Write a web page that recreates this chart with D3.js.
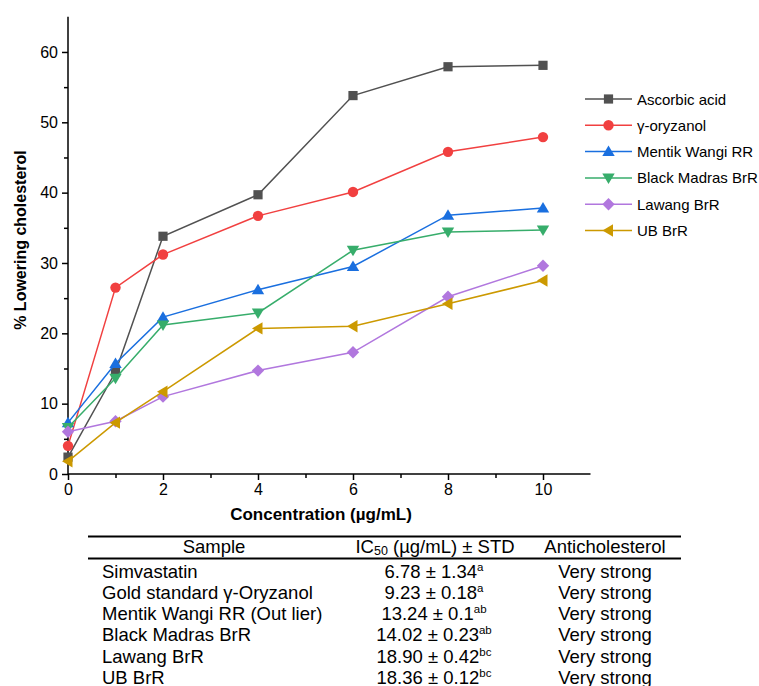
<!DOCTYPE html>
<html>
<head>
<meta charset="utf-8">
<script src="https://cdn.jsdelivr.net/npm/d3@7"></script>
<style>
  body { margin: 0; background: #fff; }
  svg text { font-family: Arial, "Liberation Sans", sans-serif; }
</style>
</head>
<body>
<svg id="chart" width="759" height="686"></svg>
<script>
var concentrations = [0, 1, 2, 4, 6, 8, 10];
var seriesNames = ['Ascorbic acid', 'γ-oryzanol', 'Mentik Wangi RR', 'Black Madras BrR', 'Lawang BrR', 'UB BrR'];
var ascorbic = [2.4, 14.5, 33.8, 39.7, 53.8, 57.9, 58.1];
var oryzanol = [4.0, 26.5, 31.2, 36.7, 40.1, 45.8, 47.9];
var mentik = [7.3, 15.7, 22.3, 26.2, 29.5, 36.8, 37.8];
var blackMadras = [6.6, 13.6, 21.2, 22.9, 31.8, 34.4, 34.7];
var lawang = [6.0, 7.5, 11.0, 14.7, 17.3, 25.2, 29.6];
var ubBrR = [1.8, 7.3, 11.7, 20.7, 21.0, 24.2, 27.5];
var colors = ['#515151', '#F14040', '#1A6FDF', '#37AD6B', '#B177DE', '#CC9900'];

var tableHeader = ['Sample', 'IC', '(µg/mL) ± STD', 'Anticholesterol'];
var tableSamples = ['Simvastatin', 'Gold standard γ-Oryzanol', 'Mentik Wangi RR (Out lier)', 'Black Madras BrR', 'Lawang BrR', 'UB BrR'];
var tableIC50 = ['6.78 ± 1.34', '9.23 ± 0.18', '13.24 ± 0.1', '14.02 ± 0.23', '18.90 ± 0.42', '18.36 ± 0.12'];
var tableSup = ['a', 'a', 'ab', 'ab', 'bc', 'bc'];
var tableClass = ['Very strong', 'Very strong', 'Very strong', 'Very strong', 'Very strong', 'Very strong'];

var allSeries = [ascorbic, oryzanol, mentik, blackMadras, lawang, ubBrR];

var svg = d3.select('#chart');

var x = d3.scaleLinear().domain([0, 11]).range([68, 590.5]);
var y = d3.scaleLinear().domain([0, 65]).range([474, 16.8]);

// axes
var xAxis = svg.append('g').attr('transform', 'translate(0,474)')
  .call(d3.axisBottom(x).tickValues(d3.range(0, 11, 1))
    .tickFormat(function(d) { return d % 2 === 0 ? d : ''; })
    .tickSizeOuter(0).tickSize(6).tickPadding(4));
xAxis.selectAll('.tick line').attr('y2', function(d) { return d % 2 === 0 ? 6 : 4; });

var yAxis = svg.append('g').attr('transform', 'translate(68,0)')
  .call(d3.axisLeft(y).tickValues(d3.range(0, 65, 5))
    .tickFormat(function(d) { return d % 10 === 0 ? d : ''; })
    .tickSizeOuter(0).tickSize(6).tickPadding(4));
yAxis.selectAll('.tick line').attr('x2', function(d) { return d % 10 === 0 ? -6 : -4; });

[xAxis, yAxis].forEach(function(a) {
  a.select('.domain').attr('stroke', '#000').attr('stroke-width', 1.5);
  a.selectAll('.tick line').attr('stroke', '#000').attr('stroke-width', 1.5);
  a.selectAll('.tick text').attr('font-size', 16).attr('fill', '#000');
});
yAxis.select('.domain').attr('d', 'M0,' + y(65) + 'V' + y(0));
xAxis.select('.domain').attr('d', 'M' + x(0) + ',0H' + x(11));

svg.append('text')
  .attr('x', 321).attr('y', 520)
  .attr('text-anchor', 'middle')
  .attr('font-size', 17).attr('font-weight', 'bold')
  .text('Concentration (µg/mL)');

svg.append('text')
  .attr('transform', 'translate(26,240) rotate(-90)')
  .attr('text-anchor', 'middle')
  .attr('font-size', 16).attr('font-weight', 'bold')
  .text('% Lowering cholesterol');

// markers
function marker(g, i, cx, cy, color) {
  var s = 5.2;
  if (i === 0) {
    g.append('rect').attr('x', cx - 4.6).attr('y', cy - 4.6).attr('width', 9.2).attr('height', 9.2).attr('fill', color);
  } else if (i === 1) {
    g.append('circle').attr('cx', cx).attr('cy', cy).attr('r', 5.2).attr('fill', color);
  } else if (i === 2) {
    g.append('path').attr('d', 'M' + cx + ',' + (cy - 6) + 'L' + (cx + 6.2) + ',' + (cy + 4.5) + 'L' + (cx - 6.2) + ',' + (cy + 4.5) + 'Z').attr('fill', color);
  } else if (i === 3) {
    g.append('path').attr('d', 'M' + cx + ',' + (cy + 6) + 'L' + (cx + 6.2) + ',' + (cy - 4.5) + 'L' + (cx - 6.2) + ',' + (cy - 4.5) + 'Z').attr('fill', color);
  } else if (i === 4) {
    g.append('path').attr('d', 'M' + cx + ',' + (cy - s - 1) + 'L' + (cx + s + 1) + ',' + cy + 'L' + cx + ',' + (cy + s + 1) + 'L' + (cx - s - 1) + ',' + cy + 'Z').attr('fill', color);
  } else {
    g.append('path').attr('d', 'M' + (cx - 6) + ',' + cy + 'L' + (cx + 4.5) + ',' + (cy - 6.2) + 'L' + (cx + 4.5) + ',' + (cy + 6.2) + 'Z').attr('fill', color);
  }
}

var line = d3.line()
  .x(function(d, j) { return x(concentrations[j]); })
  .y(function(d) { return y(d); });

for (var i = 0; i < allSeries.length; ++i) {
  var g = svg.append('g');
  g.append('path')
    .attr('d', line(allSeries[i]))
    .attr('fill', 'none')
    .attr('stroke', colors[i])
    .attr('stroke-width', 1.5);
  for (var j = 0; j < allSeries[i].length; ++j) {
    marker(g, i, x(concentrations[j]), y(allSeries[i][j]), colors[i]);
  }
}

// legend
for (var k = 0; k < seriesNames.length; ++k) {
  var ly = 99 + k * 26.3;
  var lg = svg.append('g');
  lg.append('line').attr('x1', 585).attr('x2', 632).attr('y1', ly).attr('y2', ly)
    .attr('stroke', colors[k]).attr('stroke-width', 1.5);
  marker(lg, k, 608.5, ly, colors[k]);
  lg.append('text').attr('x', 637).attr('y', ly + 5.5)
    .attr('font-size', 15).attr('fill', '#000').text(seriesNames[k]);
}

// table
var tbl = svg.append('g');
tbl.append('line').attr('x1', 88).attr('x2', 681).attr('y1', 536.5).attr('y2', 536.5)
  .attr('stroke', '#000').attr('stroke-width', 2);
tbl.append('line').attr('x1', 88).attr('x2', 681).attr('y1', 558.5).attr('y2', 558.5)
  .attr('stroke', '#000').attr('stroke-width', 2);

var fs = 18.5;
tbl.append('text').attr('x', 214).attr('y', 553).attr('text-anchor', 'middle')
  .attr('font-size', fs).text(tableHeader[0]);
var hd = tbl.append('text').attr('x', 435).attr('y', 553).attr('text-anchor', 'middle').attr('font-size', fs);
hd.append('tspan').text(tableHeader[1]);
hd.append('tspan').attr('font-size', 12.5).attr('dy', 2).text('50');
hd.append('tspan').attr('dy', -2).text(' ' + tableHeader[2]);
tbl.append('text').attr('x', 605).attr('y', 553).attr('text-anchor', 'middle')
  .attr('font-size', fs).text(tableHeader[3]);

for (var r = 0; r < tableSamples.length; ++r) {
  var ry = 577.5 + r * 21.3;
  tbl.append('text').attr('x', 102).attr('y', ry).attr('font-size', fs).text(tableSamples[r]);
  var t = tbl.append('text').attr('x', 434).attr('y', ry).attr('text-anchor', 'middle').attr('font-size', fs);
  t.append('tspan').text(tableIC50[r]);
  t.append('tspan').attr('font-size', 11.5).attr('dy', -7).text(tableSup[r]);
  tbl.append('text').attr('x', 605).attr('y', ry).attr('text-anchor', 'middle').attr('font-size', fs).text(tableClass[r]);
}
</script>
</body>
</html>
